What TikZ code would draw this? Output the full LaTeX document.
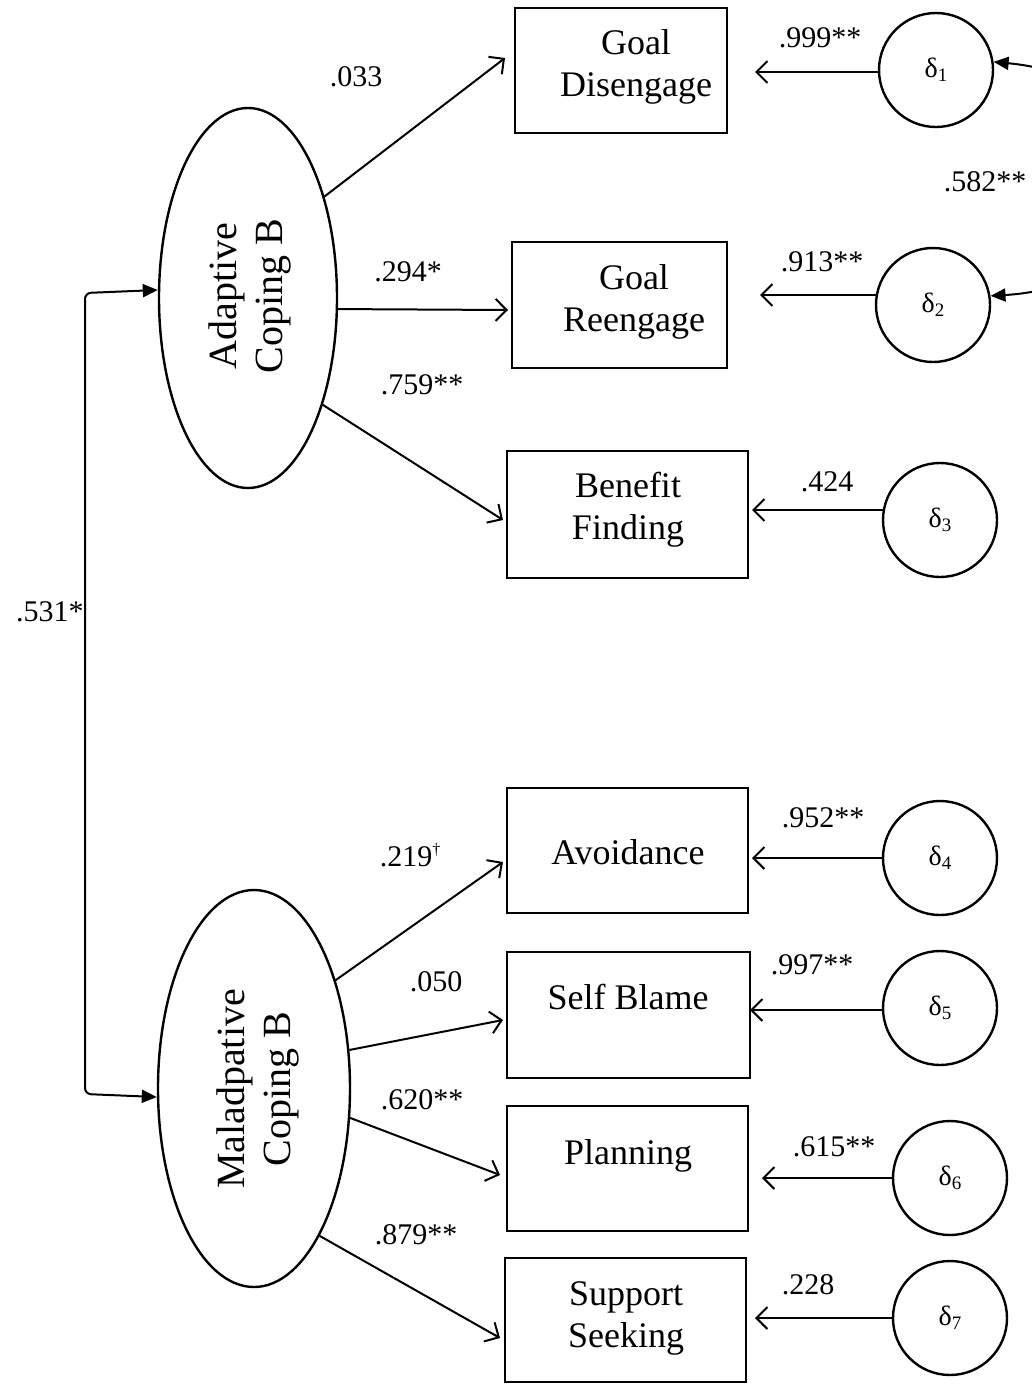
\documentclass[tikz,border=0pt]{standalone}
\usepackage{fontspec}
\setmainfont{Liberation Serif}
\usetikzlibrary{shapes.geometric,arrows.meta,calc}
\newcommand{\errsym}[1]{δ\raisebox{-0.3ex}{\fontsize{19}{19}\selectfont #1}}
\begin{document}
\begin{tikzpicture}[x=1pt,y=-1pt,
  box/.style={draw, line width=2.4pt, inner sep=0pt},
  boxtext/.style={align=center, font=\fontsize{36}{42}\selectfont, inner sep=0pt},
  latent/.style={ellipse, draw, line width=2.4pt, inner sep=0pt},
  lattext/.style={rotate=90, align=center, font=\fontsize{40}{46}\selectfont, inner sep=0pt},
  err/.style={circle, draw, line width=2.4pt, minimum size=114pt, inner sep=0pt,
              font=\fontsize{28}{28}\selectfont},
  load/.style={line width=2pt, -{Straight Barb[length=11pt,width=22pt,line width=2pt]}},
  cov/.style={line width=2pt, rounded corners=6pt,
              {Triangle[length=15pt,width=13pt]}-{Triangle[length=15pt,width=13pt]}},
  coef/.style={font=\fontsize{30}{30}\selectfont, inner sep=0pt}
]
\useasboundingbox (0,0) rectangle (1032,1384);

% latent factors
\node[latent, minimum width=178pt, minimum height=380pt] (adapt) at (248,298) {};
\node[lattext] (adaptt) at (250,296) {Adaptive\\Coping B};
\node[latent, minimum width=192pt, minimum height=397pt] (mal) at (254,1088.5) {};
\node[lattext] (malt) at (258,1089) {Maladpative\\Coping B};

% indicators
\node[box, minimum width=212pt, minimum height=125pt] (gd) at (621,70.5) {};
\node[boxtext] (gdt) at (636,67) {Goal\\Disengage};
\node[box, minimum width=215pt, minimum height=126pt] (gr) at (619.5,305) {};
\node[boxtext] (grt) at (634,302) {Goal\\Reengage};
\node[box, minimum width=241pt, minimum height=127pt] (bf) at (627.5,514.5) {};
\node[boxtext] (bft) at (628,510) {Benefit\\Finding};
\node[box, minimum width=241pt, minimum height=125pt] (av) at (627.5,850.5) {};
\node[boxtext] (avt) at (628,852) {Avoidance};
\node[box, minimum width=243pt, minimum height=126pt] (sb) at (628.5,1015) {};
\node[boxtext] (sbt) at (628,997) {Self Blame};
\node[box, minimum width=241pt, minimum height=125pt] (pl) at (627.5,1168.5) {};
\node[boxtext] (plt) at (628,1156) {Planning};
\node[box, minimum width=241pt, minimum height=124pt] (ss) at (625.5,1320) {};
\node[boxtext] (sst) at (626,1318) {Support\\Seeking};

% error terms
\node[err] (d1) at (936,70) {\errsym{1}};
\node[err] (d2) at (933,305) {\errsym{2}};
\node[err] (d3) at (940,520) {\errsym{3}};
\node[err] (d4) at (940,858) {\errsym{4}};
\node[err] (d5) at (940,1008) {\errsym{5}};
\node[err] (d6) at (950,1178) {\errsym{6}};
\node[err] (d7) at (950,1318) {\errsym{7}};

% arrow tips near the indicator boxes
\coordinate (t1) at (505,58);
\coordinate (t2) at (508,310);
\coordinate (t3) at (503,520);
\coordinate (t4) at (503,862);
\coordinate (t5) at (503,1020);
\coordinate (t6) at (500,1175);
\coordinate (t7) at (500,1338);

% factor loadings
\draw[load] (adapt.53) -- (t1);
\draw[load] (adapt.-7.6) -- (t2);
\draw[load] (adapt.-55.5) -- (t3);
\draw[load] (mal.53) -- (t4);
\draw[load] (mal.22.9) -- (t5);
\draw[load] (mal.-17.1) -- (t6);
\draw[load] (mal.-66.1) -- (t7);

\node[coef] at (356,77) {.033};
\node[coef] at (408,272) {.294*};
\node[coef] at (422,385) {.759**};
\node[coef] at (410,855) {.219\raisebox{0.9ex}{\fontsize{16}{16}\selectfont †}};
\node[coef] at (436,982) {.050};
\node[coef] at (422,1100) {.620**};
\node[coef] at (416,1235) {.879**};

% error paths
\coordinate (e1) at (755,72);
\coordinate (e2) at (760,295);
\coordinate (e3) at (752,510);
\coordinate (e4) at (752,858);
\coordinate (e5) at (750,1010);
\coordinate (e6) at (762,1178);
\coordinate (e7) at (755,1318);
\draw[load] (d1.west |- e1) -- (e1);
\draw[load] ($(d2.west |- e2)+(3,0)$) -- (e2);
\draw[load] ($(d3.west |- e3)+(2,0)$) -- (e3);
\draw[load] (d4.west |- e4) -- (e4);
\draw[load] (d5.west |- e5) -- (e5);
\draw[load] (d6.west |- e6) -- (e6);
\draw[load] (d7.west |- e7) -- (e7);

\node[coef] at (820,38) {.999**};
\node[coef] at (822,262) {.913**};
\node[coef] at (827,482) {.424};
\node[coef] at (823,818) {.952**};
\node[coef] at (812,965) {.997**};
\node[coef] at (834,1147) {.615**};
\node[coef] at (808,1285) {.228};

% correlated errors (wide arc running past the right edge)
\draw[line width=2pt, {Triangle[length=15pt,width=13pt]}-{Triangle[length=15pt,width=13pt]}]
  (d1.8) .. controls (1190,80) and (1190,284) .. (d2.9);
\node[coef] at (985,182) {.582**};

% factor covariance
\draw[cov] ($(adapt.west)+(0,-8)$) -- (85,293) -- (85,1094) -- ($(mal.west)+(0,8.5)$);
\node[coef] at (50,612) {.531*};
\end{tikzpicture}
\end{document}
